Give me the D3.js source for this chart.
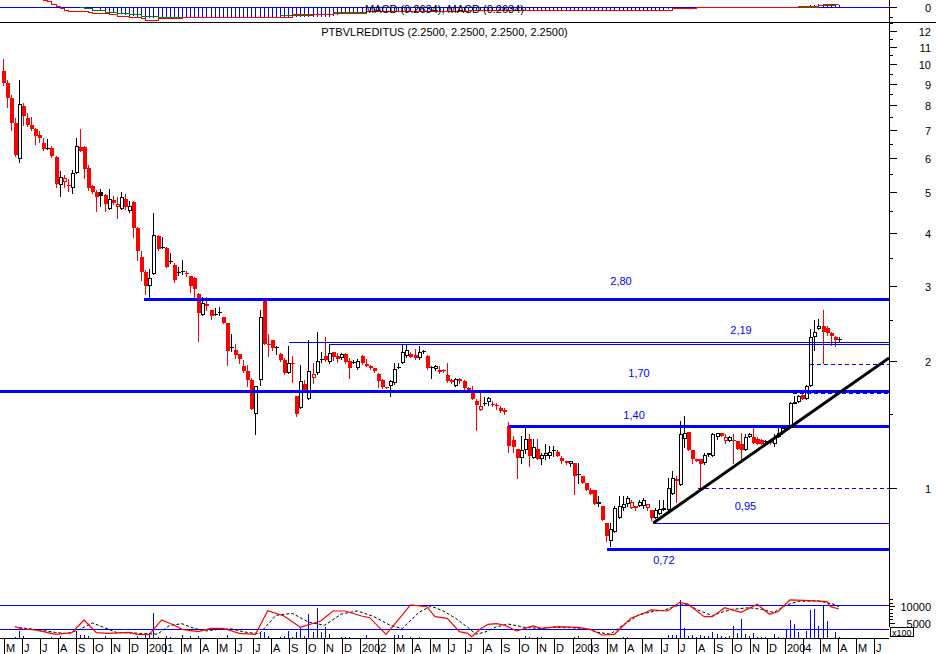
<!DOCTYPE html>
<html><head><meta charset="utf-8">
<script src="https://cdn.jsdelivr.net/npm/d3@7"></script>
<style>
html,body{margin:0;padding:0;background:#fff;}
svg{display:block;font-family:Arial,"Liberation Sans",sans-serif;}
</style></head><body>
<svg id="chart" width="936" height="654"></svg>
<script>
// ---------------- DATA ----------------
const symbol = "PTBVLREDITUS";
const startDate = "2000-04-28";   // first weekly bar
const open = [9.66,9.05,8.35,7.28,5.97,7.98,7.47,7.19,7.04,6.81,
6.53,6.35,6.35,6.06,5.19,5.28,5.20,5.12,5.55,6.39,
6.37,5.69,5.16,5.00,5.00,4.92,4.56,4.79,4.61,4.56,
4.82,4.51,4.74,4.12,3.52,3.24,3.00,3.20,3.94,3.71,
3.68,3.44,3.37,3.24,3.26,3.22,3.17,3.13,2.88,2.56,
2.72,2.63,2.57,2.60,2.53,2.45,2.15,2.12,2.07,1.94,
1.89,1.80,1.50,1.80,2.78,2.19,2.24,2.15,2.07,2.01,
1.87,1.98,1.65,1.55,1.76,1.62,1.82,1.87,2.02,2.05,
1.99,2.10,2.05,2.03,2.07,2.00,1.99,1.92,2.05,1.96,
1.94,1.92,1.86,1.80,1.73,1.74,1.77,1.93,1.98,2.05,
2.07,2.06,2.03,2.11,2.05,1.93,1.91,1.88,1.90,1.85,
1.80,1.74,1.81,1.79,1.72,1.69,1.61,1.53,1.59,1.60,
1.58,1.57,1.55,1.53,1.40,1.30,1.24,1.18,1.23,1.31,
1.18,1.24,1.17,1.19,1.19,1.23,1.22,1.18,1.16,1.14,
1.15,1.08,1.07,1.03,0.99,0.99,0.92,0.91,0.83,0.75,
0.79,0.85,0.90,0.92,0.90,0.90,0.91,0.91,0.90,0.89,
0.85,0.87,0.89,0.89,0.97,1.05,1.02,1.31,1.36,1.23,
1.17,1.17,1.15,1.20,1.19,1.32,1.35,1.29,1.29,1.30,
1.29,1.27,1.23,1.32,1.32,1.31,1.30,1.29,1.29,1.27,
1.32,1.35,1.37,1.40,1.59,1.60,1.66,1.62,1.74,2.27,
2.37,2.41,2.39,2.33,2.28,2.25];
const high = [10.30,9.18,8.47,7.47,9.18,8.11,7.68,7.51,7.08,6.96,
6.70,6.66,6.41,6.08,5.60,5.48,5.36,5.63,6.70,7.04,
6.41,5.79,5.19,5.05,5.08,4.94,5.07,4.89,4.87,4.99,
4.94,4.76,4.76,4.14,3.62,3.27,3.29,4.45,3.96,3.92,
3.71,3.59,3.39,3.33,3.46,3.26,3.17,3.15,2.89,2.83,
2.83,2.63,2.66,2.68,2.54,2.45,2.31,2.19,2.07,2.01,
1.95,1.82,1.74,2.64,2.80,2.31,2.24,2.16,2.08,2.03,
2.16,2.05,1.65,1.95,1.80,2.24,1.97,2.34,2.10,2.27,
2.19,2.10,2.08,2.09,2.08,2.03,2.01,2.02,2.06,2.02,
1.95,1.92,1.87,1.81,1.73,1.80,1.98,1.98,2.18,2.19,
2.10,2.13,2.16,2.12,2.06,1.94,1.95,1.94,1.91,1.98,
1.81,1.82,1.82,1.80,1.73,1.74,1.62,1.68,1.64,1.64,
1.61,1.59,1.56,1.55,1.43,1.33,1.24,1.33,1.40,1.34,
1.31,1.31,1.21,1.27,1.26,1.26,1.23,1.19,1.16,1.16,
1.15,1.15,1.07,1.03,1.00,0.99,0.96,0.91,0.83,0.83,
0.91,0.96,0.96,0.96,0.94,0.91,0.94,0.95,0.92,0.89,
0.90,0.94,0.94,1.06,1.10,1.07,1.44,1.48,1.36,1.23,
1.17,1.17,1.21,1.21,1.35,1.35,1.35,1.34,1.33,1.34,
1.29,1.35,1.34,1.35,1.40,1.32,1.31,1.30,1.29,1.34,
1.40,1.40,1.41,1.60,1.65,1.66,1.67,1.75,2.37,2.50,
2.51,2.63,2.41,2.34,2.29,2.27];
const low = [8.94,7.95,7.00,6.08,5.89,7.19,7.15,7.00,6.49,6.57,
6.28,6.33,6.05,5.14,4.90,5.14,5.03,4.97,5.53,6.25,
5.39,5.05,4.97,4.51,4.64,4.51,4.56,4.68,4.35,4.55,
4.55,4.48,3.92,3.46,3.10,2.88,2.81,3.20,3.65,3.68,
3.33,3.39,3.07,3.18,3.20,3.16,2.91,2.81,2.22,2.56,
2.63,2.51,2.56,2.56,2.45,1.95,2.11,2.03,1.97,1.88,
1.74,1.54,1.34,1.75,2.19,2.05,2.12,2.07,2.00,1.86,
1.87,1.78,1.48,1.55,1.71,1.62,1.77,1.86,1.99,2.00,
1.98,2.01,1.99,2.02,1.98,1.82,1.98,1.91,1.96,1.94,
1.91,1.88,1.73,1.72,1.72,1.65,1.76,1.92,1.98,2.04,
2.04,2.02,2.02,2.09,1.91,1.82,1.90,1.87,1.88,1.78,
1.77,1.74,1.77,1.71,1.69,1.62,1.37,1.53,1.57,1.57,
1.56,1.54,1.51,1.50,1.22,1.22,1.06,1.15,1.21,1.13,
1.18,1.17,1.14,1.17,1.18,1.19,1.19,1.15,1.14,1.13,
0.97,1.03,1.03,0.99,0.97,0.92,0.91,0.84,0.75,0.73,
0.79,0.85,0.89,0.91,0.90,0.89,0.91,0.90,0.89,0.84,
0.85,0.87,0.89,0.89,0.97,0.93,1.02,1.25,1.23,1.15,
1.16,1.00,1.14,1.19,1.19,1.31,1.33,1.28,1.29,1.15,
1.24,1.17,1.23,1.32,1.28,1.27,1.27,1.28,1.27,1.26,
1.32,1.34,1.37,1.40,1.59,1.60,1.62,1.62,1.74,2.12,
2.37,1.97,2.30,2.18,2.16,2.23];
const close = [9.05,8.35,7.28,6.11,8.06,7.56,7.19,7.04,6.79,6.71,
6.33,6.35,6.08,5.22,5.41,5.39,5.20,5.53,6.41,6.26,
5.67,5.11,5.00,4.87,4.90,4.68,4.81,4.72,4.68,4.86,
4.61,4.62,4.12,3.62,3.24,3.00,3.13,3.96,3.66,3.71,
3.33,3.44,3.10,3.24,3.26,3.22,3.00,2.95,2.59,2.74,
2.69,2.55,2.57,2.60,2.46,2.11,2.15,2.06,2.02,1.89,
1.80,1.54,1.74,2.54,2.19,2.18,2.14,2.15,2.01,1.87,
1.98,1.96,1.50,1.79,1.71,1.89,1.86,2.00,2.02,2.01,
2.08,2.04,2.02,2.07,1.99,1.92,1.99,2.00,1.97,1.94,
1.92,1.89,1.79,1.73,1.72,1.79,1.91,1.93,2.10,2.12,
2.04,2.03,2.10,2.11,1.92,1.93,1.94,1.90,1.89,1.79,
1.78,1.81,1.79,1.72,1.70,1.62,1.57,1.56,1.59,1.63,
1.58,1.56,1.52,1.51,1.26,1.25,1.18,1.23,1.31,1.19,
1.25,1.17,1.20,1.21,1.22,1.23,1.19,1.16,1.15,1.16,
1.07,1.08,1.03,0.99,0.97,0.92,0.93,0.84,0.77,0.80,
0.90,0.91,0.92,0.95,0.93,0.91,0.93,0.94,0.92,0.85,
0.89,0.895,0.90,1.00,1.06,1.04,1.34,1.35,1.23,1.17,
1.16,1.14,1.20,1.21,1.34,1.35,1.33,1.318,1.324,1.29,
1.24,1.23,1.32,1.34,1.28,1.275,1.27,1.29,1.28,1.32,
1.35,1.39,1.40,1.59,1.60,1.65,1.62,1.74,2.27,2.34,
2.41,2.34,2.33,2.29,2.24,2.25];
// weekly volume, in hundreds of shares
const volume = [0,410,410,720,2500,1030,0,0,410,0,
0,410,720,0,1030,0,0,0,2500,1250,
1250,940,520,0,0,1030,0,0,520,0,
0,0,0,1030,0,1250,1970,7810,840,410,
940,720,520,0,1250,0,1030,0,940,0,
410,0,0,0,0,1250,520,0,520,0,
0,520,520,2090,2190,940,0,0,620,1030,
2500,620,2090,3530,1030,7720,2280,9280,2090,3660,
1780,0,0,620,720,720,0,0,0,1470,
0,0,520,0,0,0,1250,1470,1470,0,
720,0,840,0,0,410,0,0,0,0,
0,0,0,0,0,0,0,0,0,0,
0,0,0,0,0,0,410,0,940,620,
0,720,720,520,0,520,0,0,0,0,
720,940,0,0,520,0,0,0,0,0,
0,410,620,720,0,0,0,0,0,0,
0,0,0,1250,1470,1250,11900,3530,1030,1250,
720,1470,940,1030,2280,1660,940,720,1030,4060,
1970,6250,1780,1030,1970,720,720,720,0,1780,
720,0,3030,5940,4690,2280,0,2590,8840,9060,
4060,10400,5410,0,2280,720];
// stochastic %K (solid) and %D (dashed), read at these bar indices
const stochKIdx = [3,5,8,10,13,17,20,23,26,31,33,36,39,42,44,48,51,54,58,62,65,69,73,78,81,84,88,90,94,97,100,104,106,109,112,114,115,117,119,121,123,126,130,132,136,141,144,147,150,154,158,159,163,166,168,172,174,177,181,185,188,190,193,198,202,203,205];
const stochK = [26.5,20.8,18.3,14,7.5,11.5,43.3,11.5,10,12.5,7.5,7.5,43.3,30.8,20,14,22.5,22.5,10,7.5,66.5,53.3,25,40.8,65.8,65.8,53.3,49,7.5,43.3,80.8,76.5,51.5,47.5,14,10,1.5,20,32.5,34,30.8,15.8,28.3,22.5,26.5,25,20,5.8,7.5,47.5,64,68.3,65.8,87.5,82.5,51.5,51.5,74,62.5,82.5,57.5,64,93.3,91.5,89,76.5,70.8];
const stochDIdx = [4,7,10,13,16,19,22,25,28,32,35,38,41,44,47,50,53,56,60,63,67,71,75,79,83,87,91,95,98,102,105,108,111,114,116,118,121,124,128,132,135,139,143,146,149,152,156,160,162,165,168,170,174,176,179,183,186,189,192,195,200,204,205];
const stochD = [24,21,17,12,9,20,36,24,12,11,9,8,30,34,22,16,20,21,12,9,55,60,38,30,58,66,52,30,22,62,78,66,48,25,8,12,26,33,25,22,25,24,22,12,8,30,56,66,67,78,84,70,54,62,70,74,70,62,80,90,91,82,76];
const stochLevels = [80, 20];
// MACD panel
const macdIdx = [10,11,12,13,14,15,16,19,21,22,26,28,31,34,35,38,44,63,71,81,89,114,122,155,164,170,195,200,201,205];
const macdLine = [0.6,0.5,0.3,0.1,-0.05,-0.2,-0.3,-0.3,-0.4,-0.48,-0.56,-0.67,-0.75,-0.88,-1.02,-0.88,-0.8,-0.8,-0.54,-0.35,-0.27,-0.22,-0.22,-0.22,-0.08,0.05,0.05,0.18,0.26,0.26];
const signalIdx = [19,20,22,25,28,31,34,38,44,64,68,76,81,89,114,157,164,170,195,200,204];
const signalLine = [0,-0.08,-0.22,-0.35,-0.48,-0.56,-0.67,-0.75,-0.8,-0.75,-0.62,-0.54,-0.43,-0.3,-0.22,-0.22,-0.08,0.05,0.1,0.18,0.26];
const histStartA = 24;
const macdHistA = [-0.22,-0.22,-0.27,-0.32,-0.40,-0.45,-0.50,-0.58,-0.64,-0.68,-0.74,-0.78,
-0.79,-0.79,-0.80,-0.80,-0.80,-0.79,-0.79,-0.79,-0.80,-0.80,
-0.80,-0.79,-0.79,-0.78,-0.78,-0.78,-0.79,-0.79,-0.79,-0.78,
-0.78,-0.78,-0.78,-0.77,-0.77,-0.77,-0.76,-0.76,-0.76,-0.75,
-0.75,-0.75,-0.74,-0.74,-0.73,-0.73,-0.72,-0.72,-0.71,-0.70,
-0.70,-0.69,-0.68,-0.68,-0.67,
-0.60,-0.54,-0.48,-0.42,-0.36,-0.32,-0.28,-0.26,
-0.24,-0.24,-0.23,-0.23,-0.23,-0.22,-0.22,-0.22,-0.22,-0.22,
-0.22,-0.22,-0.21,-0.21,-0.21,-0.22,-0.22,-0.22,-0.22,-0.23,
-0.23,-0.23,-0.23,-0.23,-0.22,-0.22,-0.22,-0.22,-0.22,-0.22,
-0.22,-0.22,-0.22,-0.22,-0.22,-0.22,-0.23,-0.23,-0.23,-0.23,
-0.23,-0.23,-0.23,-0.23,-0.23,-0.23,-0.23,-0.23,-0.23,-0.23,
-0.23,-0.23,-0.23,-0.24,-0.24,-0.24,-0.24,-0.24,-0.25,-0.25,
-0.25,-0.25,-0.25,-0.24,-0.23,-0.22,-0.21,-0.20,-0.18,-0.17,
-0.16,-0.14,-0.12,-0.10,-0.08,-0.06,-0.05,-0.04,-0.03];
const histStartB = 198;
const macdHistB = [0.27,0.30,0.33,0.37,0.37,0.35,0.33,0.30];
const macdValue = "0.2634";
// axis ticks
const priceTicks = [1,2,3,4,5,6,7,8,9,10,11,12];
const priceMinorTicks = [1.5,2.5,3.5,4.5,5.5,6.5,7.5,8.5,9.5,10.5,11.5,12.5];
const volumeTicks = [5000,10000];
const volumeMinorTicks = [6000,7000,8000,9000,11000,12000];
const monthLetters = ["","","M","A","M","J","J","A","S","O","N","D"];
// drawn analysis lines (price level, starting bar index)
const thickLevels = [2.80, 1.70, 1.40, 0.72];
const thickStart = [34.7, -1, 124.2, 148.2];
const thinLevels = [2.21, 2.19, 0.83];
const thinStart = [70.3, 80.3, 159.5];
const dashedLevels = [1.00, 1.675, 1.96];
const dashedStart = [170.5, 193.8, 197.9];
const trendFrom = [159.5, 0.828];
const trendTo = [217.3, 2.03];
const noteText = ["2,80","2,19","1,70","1,40","0,95","0,72"];
const noteIdx = [151.6, 181.0, 156.0, 154.8, 182.1, 162.1];
const notePrice = [3.083, 2.368, 1.870, 1.489, 0.908, 0.678];

// ---------------- CHART ----------------
const svg = d3.select("#chart");
const RIGHT = 889;
const BLUE = "#0000ff", RED = "#ff0000";
const WEEK = 7 * 86400000;
const t0 = d3.utcParse("%Y-%m-%d")(startDate);
const dateAt = i => new Date(t0.getTime() + i * WEEK);
const n = close.length;
const x = d3.scaleUtc().domain([dateAt(0), dateAt(n - 1)]).range([2.5, 838.9]);
const xi = i => x(dateAt(i));
const y = d3.scaleLog().domain([1, 10]).range([488.3, 64.3]);
const yM = d3.scaleLinear().domain([-1, 0]).range([19.8, 7.3]);
const yS = d3.scaleLinear().domain([20, 80]).range([629.3, 605.3]);
const yV = d3.scaleLinear().domain([0, 10000]).range([639.5, 606]);

const defs = svg.append("defs");
defs.append("clipPath").attr("id", "cMain").append("rect").attr("x", 0).attr("y", 23).attr("width", RIGHT).attr("height", 580);
defs.append("clipPath").attr("id", "cMacd").append("rect").attr("x", 0).attr("y", 0).attr("width", RIGHT).attr("height", 22);
defs.append("clipPath").attr("id", "cLow").append("rect").attr("x", 0).attr("y", 596).attr("width", RIGHT).attr("height", 43);

// ---- MACD panel ----
const gM = svg.append("g").attr("clip-path", "url(#cMacd)");
gM.append("line").attr("x1", 0).attr("x2", RIGHT).attr("y1", Math.round(yM(0)) + 0.5).attr("y2", Math.round(yM(0)) + 0.5)
  .attr("stroke", BLUE).attr("shape-rendering", "crispEdges");
function drawHist(start, vals) {
  vals.forEach((v, k) => {
    const cx = Math.round(xi(start + k)) + 0.5;
    const y0 = Math.round(yM(0)) + 0.5, y1 = Math.round(yM(v)) + 0.5;
    gM.append("line").attr("x1", cx).attr("x2", cx).attr("y1", y0).attr("y2", y1)
      .attr("stroke", BLUE).attr("shape-rendering", "crispEdges");
  });
}
drawHist(histStartA, macdHistA);
drawHist(histStartB, macdHistB);
const mLine = d3.line().x(d => Math.round(xi(d[0]))).y(d => Math.round(yM(d[1])) + 0.5).curve(d3.curveStepAfter);
gM.append("path").datum(signalIdx.map((v, k) => [v, signalLine[k]])).attr("d", mLine)
  .attr("fill", "none").attr("stroke", "#008000").attr("stroke-width", 1).attr("shape-rendering", "crispEdges");
gM.append("path").datum(macdIdx.map((v, k) => [v, macdLine[k]])).attr("d", mLine)
  .attr("fill", "none").attr("stroke", RED).attr("stroke-width", 1).attr("shape-rendering", "crispEdges");
svg.append("text").attr("x", RIGHT / 2).attr("y", 13).attr("text-anchor", "middle")
  .attr("font-size", 11).text(`MACD (${macdValue}), MACD (${macdValue})`);

// ---- main price panel ----
const gP = svg.append("g").attr("clip-path", "url(#cMain)");
close.forEach((c, i) => {
  const o = open[i], h = high[i], l = low[i];
  const prev = i > 0 ? close[i - 1] : o;
  const col = c >= prev ? "#000" : RED;
  const cx = Math.round(xi(i));
  const yH = Math.round(y(h)), yL = Math.round(y(l));
  const yT = Math.round(y(Math.max(o, c))), yB = Math.round(y(Math.min(o, c)));
  gP.append("line").attr("x1", cx + 0.5).attr("x2", cx + 0.5).attr("y1", yH).attr("y2", yL + 1)
    .attr("stroke", col).attr("shape-rendering", "crispEdges");
  if (o === c) {
    gP.append("line").attr("x1", cx - 1).attr("x2", cx + 3).attr("y1", yT + 0.5).attr("y2", yT + 0.5)
      .attr("stroke", col).attr("shape-rendering", "crispEdges");
  } else if (c < o) {
    gP.append("rect").attr("x", cx - 1).attr("y", yT).attr("width", 4).attr("height", Math.max(1, yB - yT))
      .attr("fill", col).attr("shape-rendering", "crispEdges");
  } else {
    gP.append("rect").attr("x", cx - 0.5).attr("y", yT + 0.5).attr("width", 3).attr("height", Math.max(1, yB - yT - 1))
      .attr("fill", "#fff").attr("stroke", col).attr("shape-rendering", "crispEdges");
  }
});
// level lines
function level(p, start, width, dash) {
  const yy = Math.round(y(p)) + 0.5;
  const l = gP.append("line").attr("x1", Math.round(xi(start))).attr("x2", RIGHT).attr("y1", yy).attr("y2", yy)
    .attr("stroke", BLUE).attr("stroke-width", width).attr("shape-rendering", "crispEdges");
  if (dash) l.attr("stroke-dasharray", dash);
}
thinLevels.forEach((p, k) => level(p, thinStart[k], 1));
dashedLevels.forEach((p, k) => level(p, dashedStart[k], 1, "4,3"));
thickLevels.forEach((p, k) => level(p, thickStart[k], 3));
gP.append("line").attr("x1", xi(trendFrom[0])).attr("y1", y(trendFrom[1]))
  .attr("x2", xi(trendTo[0])).attr("y2", y(trendTo[1]))
  .attr("stroke", "#000").attr("stroke-width", 3);
noteText.forEach((t, k) => {
  svg.append("text").attr("x", xi(noteIdx[k])).attr("y", y(notePrice[k]) + 4)
    .attr("text-anchor", "middle").attr("font-size", 11).attr("fill", BLUE).text(t);
});
svg.append("text").attr("x", RIGHT / 2).attr("y", 36).attr("text-anchor", "middle").attr("font-size", 11)
  .text(`${symbol} (${close[n-1].toFixed(4)}, ${close[n-1].toFixed(4)}, ${close[n-1].toFixed(4)}, ${close[n-1].toFixed(4)})`);

// ---- lower panel: volume + stochastic ----
const gL = svg.append("g").attr("clip-path", "url(#cLow)");
stochLevels.forEach(v => {
  const yy = Math.round(yS(v)) + 0.5;
  gL.append("line").attr("x1", 0).attr("x2", RIGHT).attr("y1", yy).attr("y2", yy)
    .attr("stroke", BLUE).attr("shape-rendering", "crispEdges");
});
volume.forEach((v, i) => {
  if (!v) return;
  const cx = Math.round(xi(i)) + 0.5;
  gL.append("line").attr("x1", cx).attr("x2", cx).attr("y1", 638).attr("y2", Math.round(yV(v)))
    .attr("stroke", BLUE).attr("shape-rendering", "crispEdges");
});
const sLine = d3.line().x(d => xi(d[0])).y(d => yS(d[1]));
gL.append("path").datum(stochDIdx.map((v, k) => [v, stochD[k]])).attr("d", sLine)
  .attr("fill", "none").attr("stroke", "#000").attr("stroke-dasharray", "3,2");
gL.append("path").datum(stochKIdx.map((v, k) => [v, stochK[k]])).attr("d", sLine)
  .attr("fill", "none").attr("stroke", RED).attr("stroke-width", 1.2);

// ---- frames & axes ----
svg.append("line").attr("x1", 0).attr("x2", 936).attr("y1", 22.5).attr("y2", 22.5).attr("stroke", "#000").attr("shape-rendering", "crispEdges");
svg.append("line").attr("x1", 0).attr("x2", RIGHT).attr("y1", 638.5).attr("y2", 638.5).attr("stroke", "#000").attr("shape-rendering", "crispEdges");
svg.append("line").attr("x1", RIGHT + 0.5).attr("x2", RIGHT + 0.5).attr("y1", 0).attr("y2", 627).attr("stroke", "#000").attr("shape-rendering", "crispEdges");

function tick(yy, len) {
  svg.append("line").attr("x1", RIGHT).attr("x2", RIGHT + len).attr("y1", yy).attr("y2", yy)
    .attr("stroke", "#000").attr("shape-rendering", "crispEdges");
}
priceTicks.forEach(v => {
  const yy = Math.round(y(v)) + 0.5;
  tick(yy, 8);
  svg.append("text").attr("x", 931).attr("y", yy + 4).attr("text-anchor", "end").attr("font-size", 11).text(v);
});
priceMinorTicks.forEach(v => tick(Math.round(y(v)) + 0.5, 4));
// MACD axis
tick(Math.round(yM(0)) + 0.5, 8);
tick(Math.round(yM(-0.75)) + 0.5, 4);
svg.append("text").attr("x", 931).attr("y", yM(0) + 4.5).attr("text-anchor", "end").attr("font-size", 11).text("0");
// volume axis
volumeTicks.forEach(v => {
  const yy = Math.round(yV(v)) + 0.5;
  tick(yy, 6);
  svg.append("text").attr("x", 931).attr("y", yy + 4).attr("text-anchor", "end").attr("font-size", 11).text(v);
});
volumeMinorTicks.forEach(v => tick(Math.round(yV(v)) + 0.5, 4));
svg.append("rect").attr("x", 890.5).attr("y", 627.5).attr("width", 23).attr("height", 9)
  .attr("fill", "#fff").attr("stroke", "#000").attr("shape-rendering", "crispEdges");
svg.append("text").attr("x", 892).attr("y", 635.5).attr("font-size", 9).text("x100");

// month axis
const months = d3.utcMonth.range(new Date(Date.UTC(2000, 4, 1)), new Date(Date.UTC(2004, 6, 1)));
months.forEach(d => {
  const tx = Math.round(x(d)) + 0.5;
  if (tx >= RIGHT) return;
  svg.append("line").attr("x1", tx).attr("x2", tx).attr("y1", 639).attr("y2", 654)
    .attr("stroke", "#000").attr("shape-rendering", "crispEdges");
  const m = d.getUTCMonth();
  const label = m === 0 ? String(d.getUTCFullYear()) : monthLetters[m];
  if (label) svg.append("text").attr("x", tx + 1.5).attr("y", 651.5).attr("font-size", 11).text(label);
});
</script>
</body></html>
